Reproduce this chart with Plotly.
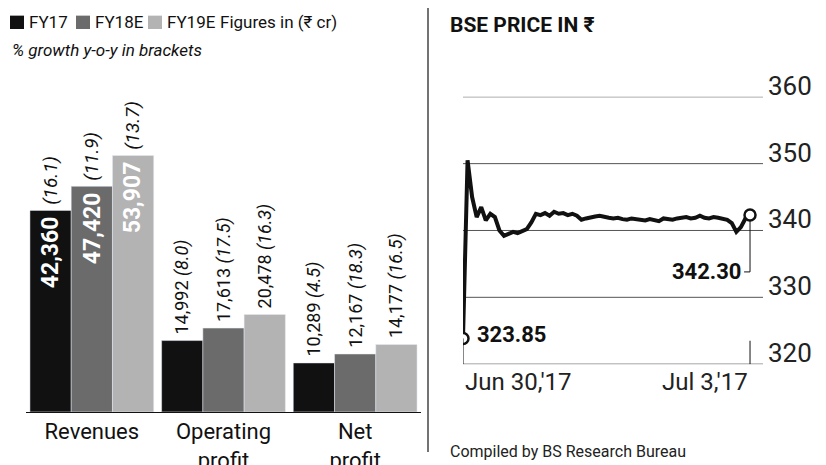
import plotly.graph_objects as go

# Financials (Rs crore)
categories = ["Revenues", "Operating<br>profit", "Net<br>profit"]
fy17 = [42360, 14992, 10289]
fy18e = [47420, 17613, 12167]
fy19e = [53907, 20478, 14177]
g17 = ["16.1", "8.0", "4.5"]
g18 = ["11.9", "17.5", "18.3"]
g19 = ["13.7", "16.3", "16.5"]

# BSE intraday price
price = [323.85, 350.5, 345, 342, 343.5, 341.5, 342.5, 342, 340, 339.2, 339.5, 339.8, 339.6,
         339.9, 340.2, 341.2, 342.5, 342.3, 342.6, 342.2, 342.8, 342.5, 342.6, 342.3, 342.5,
         342.2, 341.6, 341.8, 342.0, 342.1, 342.2, 342.0, 341.9, 341.8, 341.9, 341.7, 341.6,
         341.8, 341.7, 341.6, 341.5, 341.7, 341.5, 341.4, 341.8, 341.7, 341.6, 341.8, 341.9,
         342.0, 341.8, 341.9, 342.2, 341.9, 341.8, 342.0, 341.9, 341.7, 341.6, 341.1, 339.8,
         340.5, 341.8, 342.3]
price_ticks = [320, 330, 340, 350, 360]

FONT = "Roboto"
W, H = 826, 465
fig = go.Figure()

series = [("FY17", fy17, g17, "#111111"), ("FY18E", fy18e, g18, "#6b6b6b"),
          ("FY19E", fy19e, g19, "#b3b3b3")]
for name, vals, gr, col in series:
    fig.add_trace(go.Bar(x=categories, y=vals, name=name, marker_color=col,
                         xaxis="x", yaxis="y", showlegend=False))

# rotated labels on bars
offsets = [-1, 0, 1]
for k, (name, vals, gr, col) in enumerate(series):
    for i, cat in enumerate(categories):
        common = dict(x=cat, y=vals[i], xref="x", yref="y", textangle=-90, showarrow=False,
                      xanchor="center", xshift=offsets[k] * 41)
        if i == 0:
            fig.add_annotation(text=f"<b>{vals[i]:,}</b>", yanchor="top", yshift=-4,
                               font=dict(family=FONT, size=23, color="white"), **common)
            fig.add_annotation(text=f"<i>({gr[i]})</i>", yanchor="bottom", yshift=4,
                               font=dict(family=FONT, size=19, color="#111"), **common)
        else:
            fig.add_annotation(text=f"{vals[i]:,} <i>({gr[i]})</i>", yanchor="bottom", yshift=4,
                               font=dict(family=FONT, size=18, color="#111"), **common)

# legend
legend_x = [2, 68, 140]
for (name, vals, gr, col), lx in zip(series, legend_x):
    fig.add_shape(type="rect", xref="paper", yref="paper", x0=lx / W, x1=(lx + 14) / W,
                  y0=1 - 22 / H, y1=1 - 8 / H, fillcolor=col, line_width=0)
    fig.add_annotation(x=(lx + 17) / W, y=1 - 15 / H, xref="paper", yref="paper", text=name,
                       showarrow=False, xanchor="left", yanchor="middle",
                       font=dict(family=FONT, size=17, color="#111"))
fig.add_annotation(x=210 / W, y=1 - 15 / H, xref="paper", yref="paper", text="Figures in (₹ cr)",
                   showarrow=False, xanchor="left", yanchor="middle",
                   font=dict(family=FONT, size=17, color="#111"))
fig.add_annotation(x=2 / W, y=1 - 44 / H, xref="paper", yref="paper",
                   text="<i>% growth y-o-y in brackets</i>", showarrow=False, xanchor="left",
                   yanchor="middle", font=dict(family=FONT, size=17, color="#111"))

# price line
idx = list(range(len(price)))
fig.add_trace(go.Scatter(x=idx, y=price, mode="lines", line=dict(color="#111", width=4),
                         xaxis="x2", yaxis="y2", showlegend=False))
fig.add_trace(go.Scatter(x=[idx[0], idx[-1]], y=[price[0], price[-1]], mode="markers",
                         marker=dict(size=11, color="white", line=dict(color="#111", width=2.5)),
                         xaxis="x2", yaxis="y2", showlegend=False))
for t in price_ticks:
    fig.add_shape(type="line", xref="x2", yref="y2", x0=0, x1=65.85, y0=t, y1=t,
                  line=dict(color="#555", width=1), layer="below")
    fig.add_annotation(x=758 / W, y=t, xref="paper", yref="y2", text=str(t), showarrow=False,
                       xanchor="left", yanchor="bottom", yshift=-6,
                       font=dict(family=FONT, size=26, color="#222"))
fig.add_annotation(x=idx[-1], y=price[-1] - 8.5, xref="x2", yref="y2", text="<b>342.30</b>",
                   showarrow=False, xanchor="right", yanchor="middle", xshift=-6,
                   font=dict(family=FONT, size=22, color="#111"))
fig.add_shape(type="path", xref="x2", yref="y2",
              path=f"M {idx[-1]},{price[-1] - 0.8} L {idx[-1]},{price[-1] - 8.5} L {idx[-1] - 1.3},{price[-1] - 8.5}",
              line=dict(color="#111", width=1))
fig.add_annotation(x=idx[0], y=price[0] + 0.6, xref="x2", yref="y2", text="<b>323.85</b>",
                   showarrow=False, xanchor="left", yanchor="middle", xshift=12,
                   font=dict(family=FONT, size=22, color="#111"))
fig.add_shape(type="line", xref="x2", yref="y2", x0=idx[0], x1=idx[0], y0=320, y1=price[0],
              line=dict(color="#111", width=1))
fig.add_shape(type="line", xref="x2", yref="y2", x0=idx[-1], x1=idx[-1], y0=320, y1=323.5,
              line=dict(color="#111", width=1))
fig.add_annotation(x=idx[0], y=320, xref="x2", yref="y2", text="Jun 30,'17", showarrow=False,
                   xanchor="left", yanchor="top", yshift=-2, font=dict(family=FONT, size=24, color="#222"))
fig.add_annotation(x=idx[-1], y=320, xref="x2", yref="y2", text="Jul 3,'17", showarrow=False,
                   xanchor="right", yanchor="top", yshift=-2, font=dict(family=FONT, size=24, color="#222"))
fig.add_annotation(x=440 / W, y=1 - 18 / H, xref="paper", yref="paper", text="<b>BSE PRICE IN ₹</b>",
                   showarrow=False, xanchor="left", yanchor="middle",
                   font=dict(family=FONT, size=21, color="#111"))
fig.add_annotation(x=440 / W, y=1 - 452 / H, xref="paper", yref="paper",
                   text="Compiled by BS Research Bureau", showarrow=False, xanchor="left", yanchor="top",
                   font=dict(family=FONT, size=16, color="#222"))

# separators
fig.add_shape(type="line", xref="paper", yref="paper", x0=420 / W, x1=420 / W, y0=0, y1=1,
              line=dict(color="#444", width=1.5))
fig.add_shape(type="line", xref="paper", yref="paper", x0=822 / W, x1=822 / W, y0=0, y1=1,
              line=dict(color="#444", width=1.5))

fig.update_layout(
    width=W, height=H, margin=dict(l=0, r=0, t=0, b=0),
    paper_bgcolor="white", plot_bgcolor="white",
    barmode="group", bargap=0.06, bargroupgap=0,
    xaxis=dict(domain=[18 / W, 413 / W], showgrid=False, showline=True, linecolor="#111",
               tickfont=dict(family=FONT, size=22, color="#111"), ticks=""),
    yaxis=dict(domain=[(H - 423) / H, 1], range=[0, 84900], visible=False),
    xaxis2=dict(domain=[455 / W, 755 / W], range=[0, 65.85], visible=False, anchor="y2"),
    yaxis2=dict(domain=[(H - 373) / H, (H - 93) / H], range=[320, 360], anchor="x2",
                visible=False),
)

fig.write_html("out.html")
